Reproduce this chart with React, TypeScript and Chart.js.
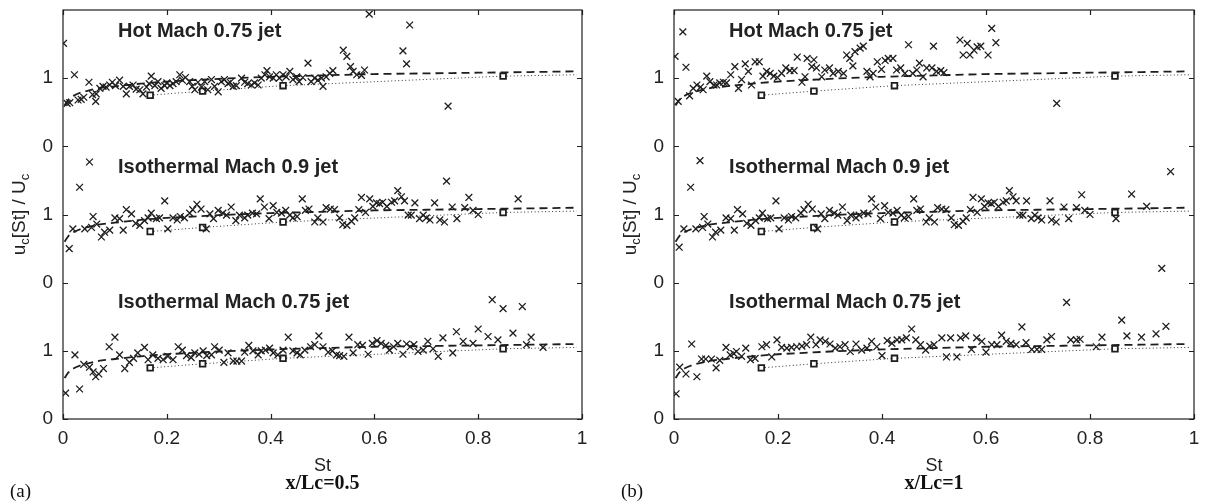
import React, { useEffect, useRef } from "react";
import { Chart, registerables } from "chart.js";

Chart.register(...registerables);

// ---------- data ----------
const xTickValues = [0, 0.2, 0.4, 0.6, 0.8, 1];
const xTickLabels = ["0", "0.2", "0.4", "0.6", "0.8", "1"];
const yTickValues = [0, 1, 2, 3, 4, 5];
const yTickLabels = ["0", "1", "0", "1", "0", "1"];

const jetNames = ["Hot Mach 0.75 jet", "Isothermal Mach 0.9 jet", "Isothermal Mach 0.75 jet"];
const jetOffsets = [4, 2, 0];
const jetLabelSt = [0.106, 0.106, 0.106];
const jetLabelY = [5.68, 3.69, 1.71];

// model curve (dashed)
const modelSt = [0.003, 0.01, 0.02, 0.035, 0.05, 0.075, 0.1, 0.15, 0.2, 0.25, 0.3, 0.4, 0.5, 0.6, 0.7, 0.8, 0.9, 0.99];
const modelU = [0.6, 0.68, 0.74, 0.79, 0.82, 0.86, 0.88, 0.92, 0.95, 0.97, 0.99, 1.02, 1.04, 1.06, 1.07, 1.08, 1.09, 1.1];

// reference curve (dotted with squares)
const refSt = [0.168, 0.269, 0.424, 0.848, 0.99];
const refU = [0.75, 0.81, 0.89, 1.03, 1.05];
const refMarked = [true, true, true, true, false];

// measured points [St, uc/Uc]
const leftHot: [number, number][] = [
  [0.001, 1.51], [0.008, 0.63], [0.013, 0.64], [0.022, 1.05], [0.029, 0.68], [0.035, 0.69], [0.04, 0.72],
  [0.05, 0.94], [0.057, 0.76], [0.063, 0.66], [0.064, 0.77], [0.071, 0.85], [0.077, 0.88], [0.083, 0.87],
  [0.09, 0.9], [0.095, 0.94], [0.101, 0.89], [0.109, 0.97], [0.116, 0.88], [0.122, 0.77], [0.128, 0.88],
  [0.135, 0.9], [0.141, 0.84], [0.148, 0.83], [0.154, 0.77], [0.161, 0.87], [0.166, 0.92], [0.17, 1.03],
  [0.177, 0.89], [0.183, 0.95], [0.189, 0.85], [0.196, 0.89], [0.2, 0.93], [0.206, 0.89], [0.212, 0.92],
  [0.218, 0.95], [0.225, 1.05], [0.23, 0.97], [0.236, 1.01], [0.244, 0.95], [0.249, 0.88], [0.254, 0.83],
  [0.26, 0.94], [0.267, 0.87], [0.273, 0.95], [0.279, 0.83], [0.286, 0.98], [0.292, 0.88], [0.299, 0.8],
  [0.305, 0.95], [0.311, 0.98], [0.318, 0.92], [0.322, 0.94], [0.328, 0.88], [0.334, 0.89], [0.344, 1.0],
  [0.35, 0.94], [0.356, 0.92], [0.363, 0.9], [0.369, 0.93], [0.376, 0.9], [0.382, 1.0], [0.389, 1.05],
  [0.393, 1.11], [0.398, 1.02], [0.405, 1.0], [0.411, 1.05], [0.417, 1.0], [0.424, 1.05], [0.43, 1.02],
  [0.437, 1.1], [0.443, 0.98], [0.45, 1.02], [0.455, 0.95], [0.462, 1.01], [0.472, 1.22], [0.478, 0.95],
  [0.485, 1.0], [0.491, 0.97], [0.498, 1.0], [0.501, 0.88], [0.507, 1.02], [0.514, 1.07], [0.52, 1.11],
  [0.54, 1.41], [0.547, 1.32], [0.554, 1.17], [0.559, 1.1], [0.566, 1.05], [0.575, 1.04], [0.581, 1.12],
  [0.59, 1.94], [0.655, 1.4], [0.662, 1.21], [0.668, 1.78], [0.742, 0.59],
];

const leftIso09: [number, number][] = [
  [0.012, 0.5], [0.019, 0.79], [0.032, 1.4], [0.042, 0.79], [0.051, 1.77], [0.055, 0.81], [0.058, 0.97],
  [0.065, 0.86], [0.074, 0.67], [0.08, 0.74], [0.09, 0.77], [0.1, 0.95], [0.109, 0.94], [0.116, 0.77],
  [0.122, 1.07], [0.132, 1.01], [0.14, 0.87], [0.148, 0.84], [0.157, 0.91], [0.164, 0.95], [0.17, 1.02],
  [0.18, 0.94], [0.186, 0.95], [0.196, 1.2], [0.202, 0.79], [0.212, 0.95], [0.22, 0.92], [0.226, 0.97],
  [0.234, 0.95], [0.244, 1.02], [0.25, 1.07], [0.258, 1.15], [0.266, 1.08], [0.276, 0.79], [0.283, 1.01],
  [0.29, 0.94], [0.299, 1.06], [0.308, 1.02], [0.315, 0.99], [0.324, 1.11], [0.333, 0.91], [0.34, 0.99],
  [0.35, 0.95], [0.356, 0.99], [0.365, 1.02], [0.373, 1.01], [0.38, 1.23], [0.388, 1.11], [0.397, 0.94],
  [0.405, 1.13], [0.412, 1.03], [0.421, 1.02], [0.429, 1.06], [0.437, 0.99], [0.443, 0.95], [0.451, 0.97],
  [0.461, 1.23], [0.467, 1.06], [0.474, 1.08], [0.485, 0.89], [0.491, 0.95], [0.501, 0.89], [0.507, 1.1],
  [0.515, 1.08], [0.523, 1.07], [0.533, 0.95], [0.539, 0.85], [0.547, 0.84], [0.556, 0.9], [0.562, 0.95],
  [0.57, 1.07], [0.575, 1.25], [0.583, 1.03], [0.591, 1.23], [0.597, 1.12], [0.604, 1.17], [0.61, 1.16],
  [0.616, 1.18], [0.624, 1.12], [0.633, 1.18], [0.639, 1.2], [0.645, 1.35], [0.652, 1.26], [0.658, 1.2],
  [0.665, 0.99], [0.671, 0.99], [0.678, 1.17], [0.687, 0.94], [0.694, 0.99], [0.7, 0.95], [0.707, 0.92],
  [0.716, 1.17], [0.726, 0.92], [0.735, 0.89], [0.739, 1.49], [0.75, 1.11], [0.759, 0.94], [0.774, 1.1],
  [0.782, 1.25], [0.79, 1.06], [0.8, 1.0], [0.877, 1.23],
];

const leftIso075: [number, number][] = [
  [0.005, 0.38], [0.023, 0.94], [0.032, 0.44], [0.04, 0.8], [0.051, 0.76], [0.058, 0.69], [0.063, 0.62],
  [0.069, 0.66], [0.078, 0.74], [0.089, 1.06], [0.1, 1.2], [0.109, 0.94], [0.119, 0.74], [0.128, 0.83],
  [0.136, 0.89], [0.144, 0.97], [0.157, 1.05], [0.164, 0.87], [0.173, 0.94], [0.183, 0.89], [0.193, 0.87],
  [0.202, 0.92], [0.212, 0.87], [0.222, 1.06], [0.23, 1.01], [0.238, 0.93], [0.247, 0.9], [0.254, 0.97],
  [0.262, 0.95], [0.27, 1.0], [0.277, 0.93], [0.286, 0.94], [0.292, 1.06], [0.301, 1.01], [0.31, 0.83],
  [0.318, 0.97], [0.328, 0.85], [0.335, 0.85], [0.344, 0.85], [0.35, 0.98], [0.358, 1.08], [0.366, 1.0],
  [0.376, 0.94], [0.382, 1.0], [0.39, 1.01], [0.398, 1.04], [0.405, 0.97], [0.414, 0.94], [0.424, 1.01],
  [0.434, 1.2], [0.443, 1.0], [0.451, 0.97], [0.457, 0.94], [0.466, 1.01], [0.477, 1.06], [0.485, 1.09],
  [0.493, 1.22], [0.501, 1.06], [0.511, 0.98], [0.519, 1.0], [0.527, 0.94], [0.533, 0.93], [0.541, 0.92],
  [0.551, 1.2], [0.559, 0.97], [0.568, 1.09], [0.577, 1.08], [0.588, 0.95], [0.596, 1.11], [0.605, 1.15],
  [0.613, 1.11], [0.622, 1.08], [0.629, 1.01], [0.637, 1.06], [0.645, 1.11], [0.655, 0.95], [0.662, 1.1],
  [0.669, 1.06], [0.676, 1.09], [0.684, 0.99], [0.694, 1.01], [0.703, 1.14], [0.713, 1.03], [0.723, 0.92],
  [0.732, 1.19], [0.751, 0.97], [0.758, 1.28], [0.771, 1.14], [0.79, 1.11], [0.8, 1.32], [0.819, 1.21],
  [0.827, 1.75], [0.838, 1.16], [0.848, 1.62], [0.867, 1.26], [0.885, 1.65], [0.893, 1.09], [0.902, 1.2],
  [0.925, 1.05],
];

const rightHot: [number, number][] = [
  [0.002, 1.32], [0.008, 0.66], [0.017, 1.68], [0.023, 1.16], [0.03, 0.74], [0.037, 0.85], [0.044, 0.9],
  [0.051, 0.87], [0.056, 0.83], [0.063, 1.03], [0.069, 0.95], [0.077, 0.9], [0.082, 0.9], [0.088, 0.93],
  [0.095, 0.94], [0.101, 0.93], [0.109, 1.05], [0.117, 1.17], [0.124, 0.85], [0.13, 0.98], [0.137, 1.21],
  [0.143, 1.1], [0.149, 0.9], [0.156, 1.24], [0.164, 1.24], [0.171, 1.03], [0.178, 1.1], [0.185, 1.07],
  [0.192, 1.03], [0.199, 1.01], [0.207, 1.07], [0.215, 1.15], [0.223, 1.11], [0.231, 1.11], [0.237, 1.31],
  [0.246, 0.94], [0.252, 1.02], [0.256, 1.29], [0.265, 1.17], [0.269, 1.27], [0.274, 1.15], [0.284, 1.02],
  [0.29, 1.12], [0.299, 1.15], [0.306, 1.07], [0.316, 1.1], [0.326, 1.07], [0.332, 1.34], [0.338, 1.29],
  [0.344, 1.18], [0.348, 1.39], [0.358, 1.44], [0.364, 1.47], [0.371, 1.1], [0.377, 1.02], [0.383, 1.07],
  [0.391, 1.24], [0.399, 1.13], [0.406, 1.26], [0.412, 1.29], [0.421, 1.29], [0.428, 1.12], [0.436, 1.15],
  [0.444, 1.07], [0.451, 1.49], [0.459, 1.07], [0.467, 1.12], [0.472, 1.22], [0.479, 1.02], [0.486, 1.15],
  [0.496, 1.15], [0.499, 1.47], [0.505, 1.1], [0.513, 1.11], [0.519, 1.08], [0.55, 1.56], [0.556, 1.34],
  [0.564, 1.51], [0.569, 1.34], [0.577, 1.41], [0.583, 1.46], [0.59, 1.47], [0.604, 1.34], [0.611, 1.73],
  [0.619, 1.52], [0.736, 0.63],
];

const rightIso09: [number, number][] = [
  [0.01, 0.52], [0.019, 0.79], [0.032, 1.4], [0.042, 0.79], [0.05, 1.79], [0.055, 0.81], [0.058, 0.97],
  [0.065, 0.86], [0.074, 0.67], [0.08, 0.74], [0.09, 0.77], [0.1, 0.95], [0.109, 0.94], [0.116, 0.77],
  [0.122, 1.07], [0.132, 1.01], [0.14, 0.87], [0.148, 0.84], [0.157, 0.91], [0.164, 0.95], [0.17, 1.02],
  [0.18, 0.94], [0.186, 0.95], [0.196, 1.2], [0.202, 0.79], [0.212, 0.95], [0.22, 0.92], [0.226, 0.97],
  [0.234, 0.95], [0.244, 1.02], [0.25, 1.07], [0.258, 1.15], [0.266, 1.08], [0.276, 0.79], [0.283, 1.01],
  [0.29, 0.94], [0.299, 1.06], [0.308, 1.02], [0.315, 0.99], [0.324, 1.11], [0.333, 0.91], [0.34, 0.99],
  [0.35, 0.95], [0.356, 0.99], [0.365, 1.02], [0.373, 1.01], [0.38, 1.23], [0.388, 1.11], [0.397, 0.94],
  [0.405, 1.13], [0.412, 1.03], [0.421, 1.02], [0.429, 1.06], [0.437, 0.99], [0.443, 0.95], [0.451, 0.97],
  [0.461, 1.23], [0.467, 1.06], [0.474, 1.08], [0.485, 0.89], [0.491, 0.95], [0.501, 0.89], [0.507, 1.1],
  [0.515, 1.08], [0.523, 1.07], [0.533, 0.95], [0.539, 0.85], [0.547, 0.84], [0.556, 0.9], [0.562, 0.95],
  [0.57, 1.07], [0.575, 1.25], [0.583, 1.03], [0.591, 1.23], [0.597, 1.12], [0.604, 1.17], [0.61, 1.16],
  [0.616, 1.18], [0.624, 1.12], [0.633, 1.18], [0.639, 1.2], [0.645, 1.35], [0.652, 1.26], [0.658, 1.2],
  [0.665, 0.99], [0.671, 0.99], [0.678, 1.2], [0.687, 0.94], [0.694, 0.99], [0.7, 0.95], [0.707, 0.92],
  [0.723, 1.2], [0.726, 0.92], [0.735, 0.89], [0.75, 1.11], [0.759, 0.94], [0.774, 1.1], [0.784, 1.29],
  [0.79, 1.06], [0.8, 1.0], [0.85, 0.94], [0.88, 1.3], [0.909, 1.12], [0.955, 1.63],
];

const rightIso075: [number, number][] = [
  [0.004, 0.37], [0.011, 0.76], [0.023, 0.66], [0.034, 1.1], [0.044, 0.62], [0.053, 0.88], [0.061, 0.88],
  [0.072, 0.88], [0.081, 0.75], [0.088, 0.86], [0.1, 1.05], [0.108, 0.94], [0.115, 0.96], [0.12, 0.99],
  [0.13, 0.92], [0.138, 1.04], [0.147, 0.87], [0.156, 0.89], [0.169, 1.06], [0.178, 1.09], [0.188, 0.91],
  [0.198, 1.16], [0.207, 1.05], [0.217, 1.04], [0.226, 1.05], [0.236, 1.06], [0.246, 1.07], [0.255, 1.09],
  [0.263, 1.2], [0.273, 1.09], [0.281, 1.16], [0.291, 1.14], [0.3, 1.1], [0.31, 1.04], [0.319, 1.06],
  [0.329, 1.09], [0.339, 0.99], [0.35, 1.1], [0.361, 1.01], [0.371, 1.04], [0.38, 1.14], [0.39, 1.06],
  [0.4, 0.93], [0.41, 1.15], [0.419, 1.11], [0.429, 1.16], [0.438, 1.16], [0.447, 1.19], [0.457, 1.32],
  [0.465, 1.16], [0.474, 1.09], [0.484, 1.01], [0.492, 1.07], [0.5, 1.09], [0.515, 1.19], [0.524, 0.91],
  [0.532, 1.19], [0.544, 0.91], [0.551, 1.19], [0.561, 1.22], [0.572, 1.02], [0.582, 1.19], [0.592, 1.14],
  [0.6, 0.98], [0.611, 1.09], [0.621, 1.09], [0.63, 1.23], [0.639, 1.14], [0.648, 1.11], [0.658, 1.09],
  [0.669, 1.35], [0.677, 1.12], [0.688, 1.02], [0.698, 1.02], [0.707, 1.02], [0.717, 1.16], [0.726, 1.21],
  [0.755, 1.71], [0.763, 1.16], [0.774, 1.16], [0.781, 1.17], [0.812, 1.06], [0.823, 1.2], [0.861, 1.45],
  [0.871, 1.22], [0.899, 1.2], [0.927, 1.25], [0.938, 2.21], [0.946, 1.36],
];

const leftSeries = [leftHot, leftIso09, leftIso075];
const rightSeries = [rightHot, rightIso09, rightIso075];

// ---------- styling ----------
const SANS = "'Liberation Sans', Arial, Helvetica, sans-serif";
const SERIF = "'Liberation Serif', 'Times New Roman', serif";
const INK = "#1e1e1e";

type PanelProps = {
  left: number;
  width: number;
  padRight: number;
  series: [number, number][][];
  letter: string;
  caption: string;
};

function Panel({ left, width, padRight, series, letter, caption }: PanelProps) {
  const ref = useRef<HTMLCanvasElement | null>(null);

  useEffect(() => {
    if (!ref.current) return;
    const datasets: any[] = [];
    series.forEach((pts, j) => {
      datasets.push({
        type: "scatter",
        data: pts.map(([s, u]) => ({ x: s, y: u + jetOffsets[j] })),
        pointStyle: "crossRot",
        radius: 4.8,
        borderColor: INK,
        backgroundColor: INK,
        borderWidth: 1.3,
        showLine: false,
      });
    });
    series.forEach((_, j) => {
      datasets.push({
        type: "line",
        data: modelSt.map((s, i) => ({ x: s, y: modelU[i] + jetOffsets[j] })),
        borderColor: INK,
        borderWidth: 1.8,
        borderDash: [8, 5],
        pointRadius: 0,
        fill: false,
        cubicInterpolationMode: "monotone",
      });
      datasets.push({
        type: "line",
        data: refSt.map((s, i) => ({ x: s, y: refU[i] + jetOffsets[j] })),
        borderColor: "#333",
        borderWidth: 1,
        borderDash: [1, 2.5],
        pointStyle: "rect",
        pointRadius: refMarked.map((m) => (m ? 4 : 0)),
        pointBorderWidth: 1.8,
        pointBorderColor: INK,
        pointBackgroundColor: "#ffffff",
        fill: false,
      });
    });

    const decor = {
      id: "decor",
      afterDatasetsDraw(chart: any) {
        const { ctx, chartArea: a, scales } = chart;
        const xs = scales.x;
        const ys = scales.y;
        ctx.save();
        ctx.strokeStyle = INK;
        ctx.lineWidth = 1.2;
        ctx.setLineDash([]);
        ctx.strokeRect(a.left, a.top, a.right - a.left, a.bottom - a.top);
        const tl = 5;
        ctx.beginPath();
        xTickValues.forEach((v) => {
          const px = Math.round(xs.getPixelForValue(v)) + 0.5;
          ctx.moveTo(px, a.bottom);
          ctx.lineTo(px, a.bottom - tl);
          ctx.moveTo(px, a.top);
          ctx.lineTo(px, a.top + tl);
        });
        yTickValues.forEach((v) => {
          const py = Math.round(ys.getPixelForValue(v)) + 0.5;
          ctx.moveTo(a.left, py);
          ctx.lineTo(a.left + tl, py);
          ctx.moveTo(a.right, py);
          ctx.lineTo(a.right - tl, py);
        });
        ctx.stroke();

        // jet labels
        ctx.fillStyle = "#222";
        ctx.font = `bold 20px ${SANS}`;
        ctx.textAlign = "left";
        ctx.textBaseline = "middle";
        jetNames.forEach((name, j) => {
          ctx.fillText(name, xs.getPixelForValue(jetLabelSt[j]), ys.getPixelForValue(jetLabelY[j]));
        });

        // y-axis title with subscripts
        const big = `19px ${SANS}`;
        const small = `13px ${SANS}`;
        const parts: [string, boolean][] = [["u", false], ["c", true], ["[St] / U", false], ["c", true]];
        let total = 0;
        parts.forEach(([t, sub]) => {
          ctx.font = sub ? small : big;
          total += ctx.measureText(t).width;
        });
        ctx.save();
        ctx.translate(25, (a.top + a.bottom) / 2);
        ctx.rotate(-Math.PI / 2);
        ctx.textAlign = "left";
        ctx.textBaseline = "alphabetic";
        let cx = -total / 2;
        parts.forEach(([t, sub]) => {
          ctx.font = sub ? small : big;
          ctx.fillText(t, cx, sub ? 4 : 0);
          cx += ctx.measureText(t).width;
        });
        ctx.restore();

        // captions
        ctx.fillStyle = "#111";
        ctx.textBaseline = "middle";
        ctx.textAlign = "left";
        ctx.font = `19px ${SERIF}`;
        ctx.fillText(letter, 10, 492);
        ctx.textAlign = "center";
        ctx.font = `bold 20px ${SERIF}`;
        ctx.fillText(caption, (a.left + a.right) / 2, 484);
        ctx.restore();
      },
    };

    const chart = new Chart(ref.current, {
      type: "scatter",
      data: { datasets },
      options: {
        animation: false,
        responsive: false,
        events: [],
        layout: { padding: { left: 0, right: padRight, top: 10, bottom: 20 } },
        plugins: { legend: { display: false }, tooltip: { enabled: false } },
        scales: {
          x: {
            type: "linear",
            min: 0,
            max: 1,
            afterBuildTicks: (s: any) => {
              s.ticks = xTickValues.map((v) => ({ value: v }));
            },
            ticks: {
              callback: (_v: any, i: number) => xTickLabels[i],
              font: { family: SANS, size: 19 },
              color: "#222",
              padding: 8,
              maxRotation: 0,
              autoSkip: false,
            },
            grid: { display: false, drawTicks: false },
            border: { display: false },
            title: {
              display: true,
              text: "St",
              font: { family: SANS, size: 18 },
              color: "#222",
              padding: { top: 0, bottom: 7 },
            },
            afterFit: (s: any) => {
              s.height = 65;
              s.paddingLeft = 0;
              s.paddingRight = 0;
              s.paddingTop = 0;
              s.paddingBottom = 0;
            },
          },
          y: {
            type: "linear",
            min: 0,
            max: 6,
            afterBuildTicks: (s: any) => {
              s.ticks = yTickValues.map((v) => ({ value: v }));
            },
            ticks: {
              callback: (_v: any, i: number) => yTickLabels[i],
              font: { family: SANS, size: 19 },
              color: "#222",
              padding: 10,
              autoSkip: false,
            },
            grid: { display: false, drawTicks: false },
            border: { display: false },
            afterFit: (s: any) => {
              s.width = 63;
              s.paddingLeft = 0;
              s.paddingRight = 0;
              s.paddingTop = 0;
              s.paddingBottom = 0;
            },
          },
        },
      } as any,
      plugins: [decor],
    });
    return () => chart.destroy();
  }, []);

  return (
    <canvas
      ref={ref}
      width={width}
      height={504}
      style={{ position: "absolute", left, top: 0, width, height: 504 }}
    />
  );
}

export default function App() {
  return (
    <div style={{ position: "fixed", left: 0, top: 0, width: 1205, height: 504, background: "#fff" }}>
      <Panel left={0} width={600} padRight={18} series={leftSeries} letter="(a)" caption="x/Lc=0.5" />
      <Panel left={611} width={594} padRight={11} series={rightSeries} letter="(b)" caption="x/Lc=1" />
    </div>
  );
}
